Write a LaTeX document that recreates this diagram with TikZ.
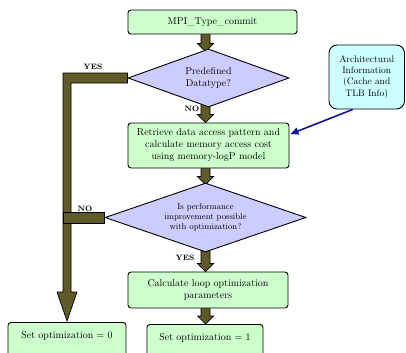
\documentclass[tikz,border=0pt]{standalone}
\usetikzlibrary{shapes.geometric,arrows.meta,calc,backgrounds}

\definecolor{boxgreen}{HTML}{CCFFCC}
\definecolor{decviolet}{HTML}{CCCCFF}
\definecolor{infocyan}{HTML}{CCFFFF}
\definecolor{flowolive}{HTML}{5F5A28}
\definecolor{linkblue}{HTML}{14149A}

\tikzset{
  procbox/.style={draw=black, line width=0.9bp, fill=boxgreen, rounded corners=3bp,
    align=center, inner sep=2bp},
  lowbox/.style={anchor=north, text height=11bp, text depth=30bp, inner ysep=5bp},
  decision/.style={diamond, draw=black, line width=0.9bp, fill=decviolet, aspect=2.8,
    align=center, inner sep=1bp},
  infobox/.style={draw=black, line width=0.9bp, fill=infocyan, rounded corners=8bp,
    align=center, inner sep=1bp, font=\fontsize{9.5}{11.3}\selectfont},
  fatarrow/.style={draw=black, line width=0.7bp, fill=flowolive, line join=miter},
  branchlabel/.style={font=\bfseries\fontsize{7.8}{9}\selectfont, inner sep=0pt},
}

% vertical block arrow in the main column, from point #1 down to point #2
\newcommand\fatdown[2]{%
  \filldraw[fatarrow] let \p1=(#1), \p2=(#2) in
    ({\colx-4.5bp},\y1) -- ({\colx+4.5bp},\y1) -- ({\colx+4.5bp},{\y2+8bp})
    -- ({\colx+8bp},{\y2+8bp}) -- (\colx,\y2) -- ({\colx-8bp},{\y2+8bp})
    -- ({\colx-4.5bp},{\y2+8bp}) -- cycle;}
\def\colx{205.5bp}

\begin{document}
\begin{tikzpicture}[x=1bp, y=-1bp, font=\fontsize{10}{12}\selectfont]
\useasboundingbox (0,0) rectangle (406,353);
\clip (0,0) rectangle (406,353);

\node[procbox, minimum width=169bp, minimum height=24bp] (b1) at (212.5,22) {MPI\_Type\_commit};
\node[decision, minimum width=161bp, minimum height=58bp] (d1) at (208.5,78) {Predefined\\Datatype?};
\node[procbox, minimum width=161bp, minimum height=45bp] (b2) at (208.5,145.5)
  {Retrieve data access pattern and\\calculate memory access cost\\using memory-logP model};
\node[infobox, minimum width=75.5bp, minimum height=64bp] (a) at (366.75,77)
  {Architectural\\Information\\(Cache and\\TLB Info)};
\node[decision, minimum width=201bp, minimum height=69bp, font=\fontsize{8.5}{10}\selectfont] (d2) at (205.5,217.5)
  {Is performance\\improvement possible\\with optimization?};
\node[procbox, minimum width=160bp, minimum height=36bp] (b3) at (208,290)
  {Calculate loop optimization\\parameters};
\node[procbox, lowbox, minimum width=116bp] (b4) at (205,324) {Set optimization = 1};
\node[procbox, lowbox, minimum width=118bp] (b5) at (67,322) {Set optimization = 0};

\begin{scope}[on background layer]
  % main column
  \fatdown{$(b1.south)+(0,-2)$}{$(d1.north)+(0,3)$}
  \fatdown{$(d1.south)+(0,-4)$}{b2.north}
  \fatdown{$(b2.south)+(0,-2)$}{$(d2.north)+(0,2)$}
  \fatdown{$(d2.south)+(0,-4)$}{b3.north}
  \fatdown{$(b3.south)+(0,-2)$}{b4.north}
  % YES branch of the first decision
  \filldraw[fatarrow] let \p1=(d1.west), \p2=(b5.north) in
    (\x1,{\y1+5bp}) -- ({\x2-4bp},{\y1+5bp}) -- ({\x2-4bp},{\y2+30bp})
    -- ({\x2-10bp},{\y2+30bp}) -- (\x2,{\y2+1bp}) -- ({\x2+10bp},{\y2+30bp})
    -- ({\x2+4bp},{\y2+30bp}) -- ({\x2+4bp},{\y1-5bp}) -- (\x1,{\y1-5bp}) -- cycle;
  % NO branch of the second decision joins it
  \filldraw[fatarrow] let \p1=(d2.west), \p2=(b5.north) in
    ({\x2-4bp},{\y1+5.5bp}) rectangle (\x1,{\y1-5.5bp});
\end{scope}

\draw[linkblue, line width=1.6bp, -{Triangle[length=8bp, width=7bp]}]
  ([xshift=-14bp]a.south) -- ([yshift=11.5bp, xshift=1bp]b2.east);

\node[branchlabel] (yes1) at (93,67) {YES};
\node[branchlabel] (no1) at (192,109) {NO};
\node[branchlabel] (no2) at (85,209) {NO};
\node[branchlabel] (yes2) at (185,258) {YES};
\end{tikzpicture}
\end{document}
